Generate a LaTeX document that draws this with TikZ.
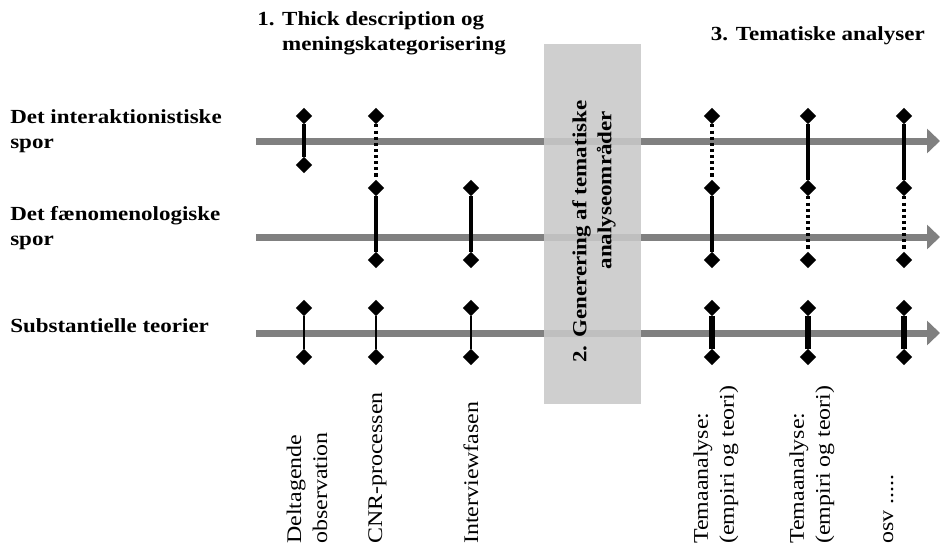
\documentclass[tikz,border=0pt]{standalone}
\usepackage{fontspec}
\setmainfont{Liberation Serif}[FakeStretch=1.15]
\usetikzlibrary{shapes.geometric,arrows.meta}
\definecolor{trackgray}{RGB}{128,128,128}
\definecolor{boxgray}{RGB}{200,200,200}

\begin{document}
\begin{tikzpicture}[x=0.75pt,y=-0.75pt,
  every node/.style={inner sep=0pt, font=\fontsize{15.6}{19.5}\selectfont},
  dia/.style={diamond, fill=black, minimum width=12.2pt, minimum height=12.2pt},
  track/.style={draw=trackgray, line width=5.25pt, -{Triangle[length=9.75pt,width=18pt]}},
  solidlink/.style={line width=2.4pt},
  dotlink/.style={line width=2.4pt, dash pattern=on 2.3pt off 2.3pt},
  thinlink/.style={line width=1.1pt},
  thicklink/.style={line width=3.9pt},
  lbl/.style={font=\bfseries\fontsize{15}{18.75}\selectfont, align=left, anchor=base west},
  vlbl/.style={rotate=90, align=left, anchor=west},
  vlblone/.style={rotate=90, anchor=base west},
]
\useasboundingbox (0,0) rectangle (941,550);

% three tracks
\coordinate (t1s) at (256,141); \coordinate (t1e) at (940,141);
\coordinate (t2s) at (256,237); \coordinate (t2e) at (940,237);
\coordinate (t3s) at (256,333); \coordinate (t3e) at (940,333);
\draw[track] (t1s) -- (t1e);
\draw[track] (t2s) -- (t2e);
\draw[track] (t3s) -- (t3e);

% phase 2 box
\fill[boxgray, fill opacity=0.88] (544,44) rectangle (641,404);
\node[vlbl, font=\bfseries\fontsize{15}{18.75}\selectfont] (phase2) at (594,363)
  {2. Generering af tematiske\\\hspace*{70pt}analyseområder};

% diamonds on the upper two tracks
\node[dia] (c1a) at (304,116) {};
\node[dia] (c1m) at (304,165) {};
\foreach \c/\x in {c2/376, c4/712, c5/808, c6/904}{
  \node[dia] (\c a) at (\x,116) {};
}
\foreach \c/\x in {c2/376, c3/471, c4/712, c5/808, c6/904}{
  \node[dia] (\c b) at (\x,188) {};
  \node[dia] (\c c) at (\x,260) {};
}
% diamonds on the lower track
\foreach \c/\x in {c1/304, c2/376, c3/471, c4/712, c5/808, c6/904}{
  \node[dia] (\c p) at (\x,308) {};
  \node[dia] (\c q) at (\x,357) {};
}

% links
\draw[solidlink] (c1a) -- (c1m);
\draw[dotlink] (c2a) -- (c2b);
\draw[solidlink] (c2b) -- (c2c);
\draw[solidlink] (c3b) -- (c3c);
\draw[dotlink] (c4a) -- (c4b);
\draw[solidlink] (c4b) -- (c4c);
\draw[solidlink] (c5a) -- (c5b);
\draw[dotlink] (c5b) -- (c5c);
\draw[solidlink] (c6a) -- (c6b);
\draw[dotlink] (c6b) -- (c6c);
\draw[thinlink] (c1p) -- (c1q);
\draw[thinlink] (c2p) -- (c2q);
\draw[thinlink] (c3p) -- (c3q);
\draw[thicklink] (c4p) -- (c4q);
\draw[thicklink] (c5p) -- (c5q);
\draw[thicklink] (c6p) -- (c6q);

% headings (base anchor sits on the last line)
\node[lbl] (h1) at (257,50) {1. Thick description og\\\hphantom{1. }meningskategorisering};
\node[lbl, anchor=base east] (h3) at (925,40) {3. Tematiske analyser};

% track names
\node[lbl] (n1) at (10,148) {Det interaktionistiske\\spor};
\node[lbl] (n2) at (10,245) {Det fænomenologiske\\spor};
\node[lbl] (n3) at (10,332) {Substantielle teorier};

% column captions
\node[vlbl] (l1) at (307,544) {Deltagende\\observation};
\node[vlblone] (l2) at (382,544) {CNR-processen};
\node[vlblone] (l3) at (478,544) {Interviewfasen};
\node[vlbl] (l4) at (716,544) {Temaanalyse:\\(empiri og teori)};
\node[vlbl] (l5) at (812,544) {Temaanalyse:\\(empiri og teori)};
\node[vlblone] (l6) at (893,544) {osv .....};
\end{tikzpicture}
\end{document}
